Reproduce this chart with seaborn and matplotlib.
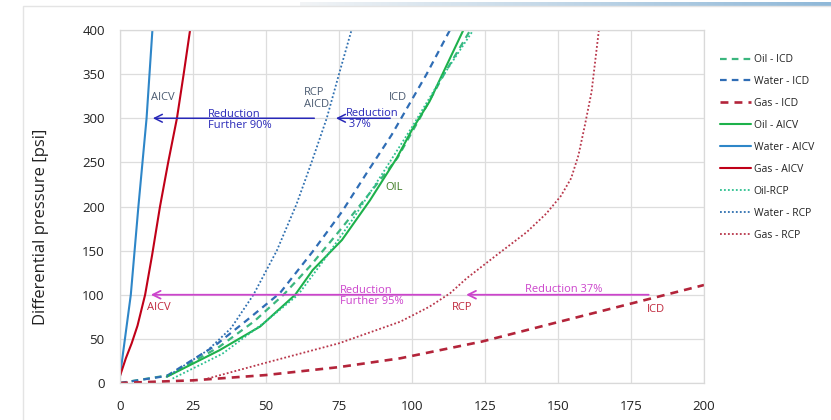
import numpy as np
import pandas as pd
import matplotlib
matplotlib.use("Agg")
import matplotlib.pyplot as plt
import seaborn as sns

# ---- data (x: rate, y: differential pressure [psi]) ----
oil_icd_x = [0, 17, 34, 46, 56, 65, 75.3, 85, 95, 103, 111, 120]
oil_icd_y = [0, 9, 41, 70, 100, 132, 173, 213, 255, 302, 350, 400]

water_icd_x = [0, 16, 32, 43.4, 54.8, 66, 76, 84.5, 93, 105, 113]
water_icd_y = [0, 8, 41, 71, 102, 149, 194, 238, 281, 350, 400]

gas_icd_x = [0, 25, 50, 75, 96, 124, 150, 175, 200]
gas_icd_y = [0, 3, 9, 18, 28, 47, 69, 90, 111]

oil_aicv_x = [16, 34, 48, 60, 66, 76, 85.6, 94.8, 100, 106, 117.6]
oil_aicv_y = [7, 37, 64, 100, 128, 162, 207, 255, 287, 319, 400]

water_aicv_x = [0, 3.7, 6.3, 9.1, 11.1]
water_aicv_y = [8, 100, 200, 300, 400]

gas_aicv_x = [0, 2, 4, 6, 8.6, 11, 13.7, 16.5, 19.5, 21.8, 24]
gas_aicv_y = [8, 28, 45, 65, 100, 145, 200, 250, 300, 350, 400]

oil_rcp_x = [18, 35, 50, 61, 70, 80, 90, 100, 110, 121]
oil_rcp_y = [5, 33, 70, 100, 140, 187, 238, 290, 345, 400]

water_rcp_x = [16, 30, 38, 45.7, 53.7, 60.5, 65.6, 70.8, 75, 79.3]
water_rcp_y = [7, 37, 62, 100, 150, 203, 250, 300, 350, 400]

gas_rcp_x = [30, 50, 75, 96, 106, 113, 118.7, 129, 139.3, 146, 151, 154.5, 157, 159.2, 161.5, 164]
gas_rcp_y = [5, 23, 45, 69.5, 86.5, 101.6, 118.6, 145, 171, 192, 212, 232, 258, 292, 330, 400]

x_ticks = [0, 25, 50, 75, 100, 125, 150, 175, 200]
y_ticks = [0, 50, 100, 150, 200, 250, 300, 350, 400]

DASH = (0, (3, 2.3))
DOT = (0, (1, 1.2))

series = [
    ("Oil - ICD", oil_icd_x, oil_icd_y, "#3BB67E", DASH, 1.6),
    ("Water - ICD", water_icd_x, water_icd_y, "#2F6DB5", DASH, 1.6),
    ("Gas - ICD", gas_icd_x, gas_icd_y, "#B3243A", DASH, 1.9),
    ("Oil - AICV", oil_aicv_x, oil_aicv_y, "#1DB14B", "-", 1.5),
    ("Water - AICV", water_aicv_x, water_aicv_y, "#2E86C8", "-", 1.5),
    ("Gas - AICV", gas_aicv_x, gas_aicv_y, "#C00018", "-", 1.5),
    ("Oil-RCP", oil_rcp_x, oil_rcp_y, "#2CC08F", DOT, 1.3),
    ("Water - RCP", water_rcp_x, water_rcp_y, "#2E6FB0", DOT, 1.3),
    ("Gas - RCP", gas_rcp_x, gas_rcp_y, "#B8364A", DOT, 1.3),
]

sns.set_style("whitegrid")
plt.rcParams["font.family"] = ["Open Sans", "DejaVu Sans"]

fig = plt.figure(figsize=(8.31, 4.2), dpi=100)
ax = fig.add_axes([120 / 831, 1 - 383 / 420, 584 / 831, 353 / 420])

for name, xs, ys, col, ls, lw in series:
    df = pd.DataFrame({"x": xs, "y": ys})
    sns.lineplot(data=df, x="x", y="y", ax=ax, color=col, linestyle=ls,
                 linewidth=lw, sort=False, estimator=None, label=name)

ax.set_xlim(0, 200)
ax.set_ylim(0, 400)
ax.set_xticks(x_ticks)
ax.set_yticks(y_ticks)
ax.grid(True, color="#DDDDDD", linewidth=0.9)
for s in ax.spines.values():
    s.set_color("#D9D9D9")
    s.set_linewidth(0.9)
ax.tick_params(labelsize=9.5, colors="#222222", length=0)
ax.tick_params(axis="y", pad=11)
ax.tick_params(axis="x", pad=12)
ax.set_xlabel("")
ax.set_ylabel("Differential pressure [psi]", fontsize=12, color="#222222")
ax.yaxis.set_label_coords(-0.121, 0.442)

# ---- annotations ----
GRAY = "#4A5A70"
BLUE = "#2828B8"
MAG = "#CC44CC"
RED = "#C0283C"
FS = 8

ax.annotate("", xy=(10.3, 300), xytext=(67.5, 300),
            arrowprops=dict(arrowstyle="->", color=BLUE, lw=1.1, mutation_scale=14))
ax.annotate("", xy=(73, 300), xytext=(93.5, 300),
            arrowprops=dict(arrowstyle="->", color=BLUE, lw=1.1, mutation_scale=14))
ax.annotate("", xy=(9.6, 100), xytext=(110.7, 100),
            arrowprops=dict(arrowstyle="->", color=MAG, lw=1.3, mutation_scale=14))
ax.annotate("", xy=(117.6, 100), xytext=(182, 100),
            arrowprops=dict(arrowstyle="->", color=MAG, lw=1.3, mutation_scale=14))

ax.text(10.5, 324, "AICV", color=GRAY, fontsize=FS, va="center")
ax.text(30, 298, "Reduction\nFurther 90%", color=BLUE, fontsize=FS, va="center", linespacing=1.0)
ax.text(63, 322, "RCP\nAICD", color=GRAY, fontsize=FS, va="center", linespacing=1.1)
ax.text(77.4, 299, "Reduction\n 37%", color=BLUE, fontsize=FS, va="center", linespacing=1.0)
ax.text(92, 324, "ICD", color=GRAY, fontsize=FS, va="center")
ax.text(90.8, 221, "OIL", color="#3C7A22", fontsize=FS, va="center")
ax.text(75.3, 99, "Reduction\nFurther 95%", color=MAG, fontsize=FS, va="center", linespacing=1.0)
ax.text(9.2, 86, "AICV", color=RED, fontsize=FS, va="center")
ax.text(138.7, 106.5, "Reduction 37%", color=MAG, fontsize=FS, va="center")
ax.text(113.7, 86, "RCP", color=RED, fontsize=FS, va="center")
ax.text(180.5, 83, "ICD", color=RED, fontsize=FS, va="center")

leg = ax.legend(loc="upper left", bbox_to_anchor=(716 / 831, 1 - 50 / 420),
                bbox_transform=fig.transFigure, frameon=False, fontsize=7.5,
                handlelength=3.0, handletextpad=0.2, labelspacing=1.05, borderaxespad=0)
for t in leg.get_texts():
    t.set_color("#222222")

# outer chart frame and top accent bar
fig.patches.append(plt.Rectangle((23 / 831, -0.01), 1.0, 1 - 6 / 420 + 0.01,
                                 transform=fig.transFigure, fill=False,
                                 edgecolor="#E4E4E4", linewidth=1.0))
bar = fig.add_axes([300 / 831, 1 - 6 / 420, 531 / 831, 4 / 420])
bar.imshow(np.linspace(0, 1, 256)[None, :], aspect="auto",
           cmap=matplotlib.colors.LinearSegmentedColormap.from_list("g", ["#F2F4F6", "#8FB8D8"]))
bar.axis("off")

fig.savefig("out.png", dpi=100, facecolor="white")
